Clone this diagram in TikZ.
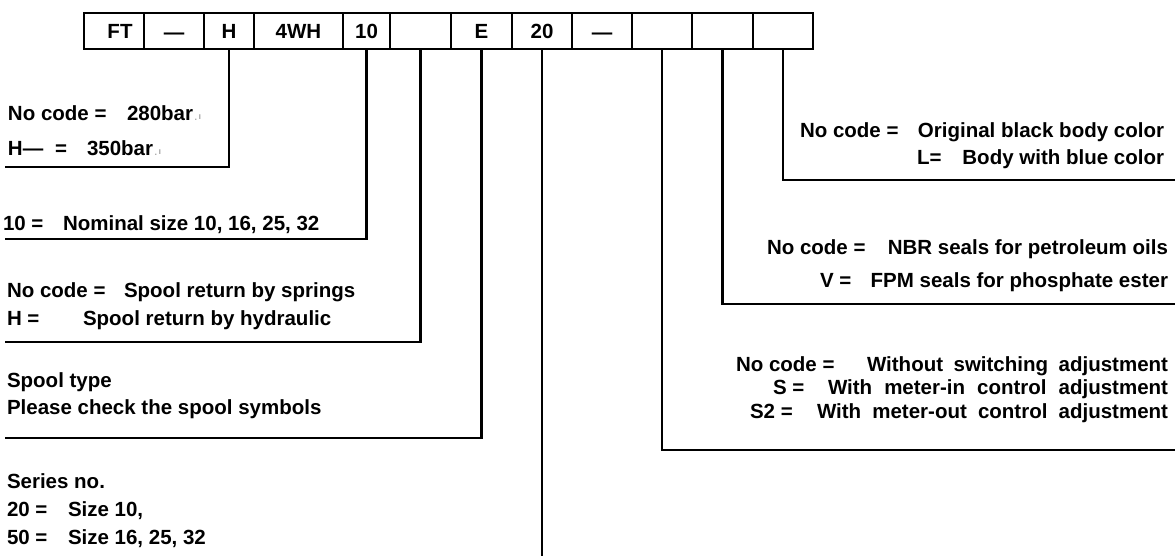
\documentclass[tikz,border=0pt]{standalone}
\usepackage{fontspec}
\setmainfont{Liberation Sans}
\newcommand\fs{\fontsize{20.5}{24}\selectfont}
\newcommand\mk{{\fontsize{9}{9}\selectfont\textcolor{black!35}{\,.\,\raisebox{1pt}{ı}}}}
\begin{document}
\begin{tikzpicture}[x=1pt,y=-1pt,
  cell/.style={draw, line width=1.8pt, minimum height=36pt, inner sep=0pt, outer sep=0pt,
               text height=14.7pt, text depth=0pt, font=\fs\bfseries},
  lead/.style={draw, line width=2.2pt, line join=miter},
  txt/.style={inner sep=0pt, outer sep=0pt, font=\fs\bfseries},
  lt/.style={txt, anchor=base west},
  rt/.style={txt, anchor=base east}]
\fill[white] (0,0) rectangle (1175,556);
\useasboundingbox (0,0) rectangle (1175,556);

% code boxes
\node[cell, minimum width=60pt] (c1)  at (114,31)   {\hspace*{12pt}FT};
\node[cell, minimum width=60pt] (c2)  at (174,31)   {\raisebox{-1.5pt}{—}};
\node[cell, minimum width=50pt] (c3)  at (229,31)   {H};
\node[cell, minimum width=89pt] (c4)  at (298.5,31) {4WH};
\node[cell, minimum width=47pt] (c5)  at (366.5,31) {10};
\node[cell, minimum width=61pt] (c6)  at (420.5,31) {};
\node[cell, minimum width=61pt] (c7)  at (481.5,31) {E};
\node[cell, minimum width=60pt] (c8)  at (542,31)   {20};
\node[cell, minimum width=60pt] (c9)  at (602,31)   {\raisebox{-1.5pt}{—}};
\node[cell, minimum width=60pt] (c10) at (662,31)   {};
\node[cell, minimum width=61pt] (c11) at (722.5,31) {};
\node[cell, minimum width=60pt] (c12) at (783,31)   {};

% leader end points
\coordinate (eH)   at (5,167);
\coordinate (e10)  at (5,239);
\coordinate (eRet) at (5,342);
\coordinate (eE)   at (5,438);
\coordinate (e20)  at (542,556);
\coordinate (eSw)  at (1175,450);
\coordinate (eSe)  at (1175,304);
\coordinate (eCo)  at (1175,180);

\draw[lead] (c3.south)  |- (eH);
\draw[lead] (c5.south)  |- (e10);
\draw[lead] (c6.south)  |- (eRet);
\draw[lead] (c7.south)  |- (eE);
\draw[lead] (c8.south)  -- (e20);
\draw[lead] (c10.south) |- (eSw);
\draw[lead] (c11.south) |- (eSe);
\draw[lead] (c12.south) |- (eCo);

% left texts
\node[lt] (h1a) at (8,121)  {No code =};
\node[lt] (h1b) at (127,121) {280bar\mk};
\node[lt] (h2a) at (8,156)  {H—};
\node[lt] (h2b) at (55,156) {=};
\node[lt] (h2c) at (87,156) {350bar\mk};

\node[lt] (n1a) at (3,230.5)  {10 =};
\node[lt] (n1b) at (63,230.5) {Nominal size 10, 16, 25, 32};

\node[lt] (r1a) at (7,297.5)   {No code =};
\node[lt] (r1b) at (124,297.5) {Spool return by springs};
\node[lt] (r2a) at (7,325.5)   {H =};
\node[lt] (r2b) at (83,325.5)  {Spool return by hydraulic};

\node[lt] (s1) at (7,387.5) {Spool type};
\node[lt] (s2) at (7,414.5) {Please check the spool symbols};

\node[lt] (q1)  at (7,488)  {Series no.};
\node[lt] (q2a) at (7,516)  {20 =};
\node[lt] (q2b) at (68,516) {Size 10,};
\node[lt] (q3a) at (7,544)  {50 =};
\node[lt] (q3b) at (68,544) {Size 16, 25, 32};

% right texts
\node[lt] (k1a) at (800,137.5)  {No code =};
\node[rt] (k1b) at (1164,137.5) {Original black body color};
\node[lt] (k2a) at (917,164.5)  {L=};
\node[rt] (k2b) at (1164,164.5) {Body with blue color};

\node[lt] (g1a) at (767,254.5)  {No code =};
\node[rt] (g1b) at (1168,254.5) {NBR seals for petroleum oils};
\node[lt] (g2a) at (820,287)    {V =};
\node[rt] (g2b) at (1168,287)   {FPM seals for phosphate ester};

\node[lt] (w1a) at (736,371.5)  {No code =};
\node[rt] (w1b) at (1168,371.5) {\makebox[301pt][s]{Without switching adjustment}};
\node[lt] (w2a) at (773,394.5)  {S =};
\node[rt] (w2b) at (1168,394.5) {\makebox[340pt][s]{With meter-in control adjustment}};
\node[lt] (w3a) at (750,418)    {S2 =};
\node[rt] (w3b) at (1168,418)   {\makebox[351pt][s]{With meter-out control adjustment}};
\end{tikzpicture}
\end{document}
